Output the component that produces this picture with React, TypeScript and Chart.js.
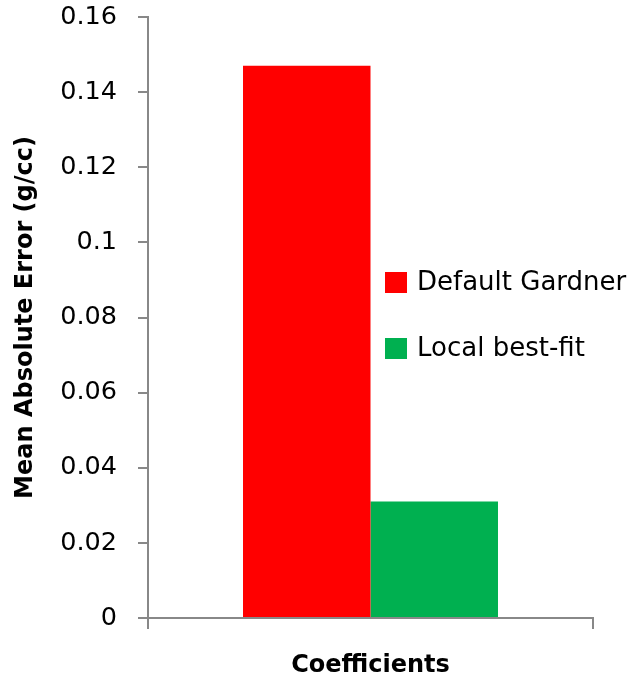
import React, { useEffect, useRef } from "react";
import { Chart, registerables } from "chart.js";

Chart.register(...registerables);

// Chart content
const categories: string[] = [""];
const defaultGardner: number[] = [0.147];
const localBestFit: number[] = [0.031];
const seriesLabels: string[] = ["Default Gardner", "Local best-fit"];
const seriesColors: string[] = ["#FF0000", "#00B050"];
const yTicks: number[] = [0, 0.02, 0.04, 0.06, 0.08, 0.1, 0.12, 0.14, 0.16];
const yTitle = "Mean Absolute Error (g/cc)";
const xTitle = "Coefficients";

const AXIS_GRAY = "#888888";
const FONT = '"DejaVu Sans", sans-serif';

// Legend drawn over the plot area, right of the bars
const overlayLegend = {
  id: "overlayLegend",
  afterDraw(chart: Chart) {
    const { ctx } = chart;
    const x0 = 385;
    const y0 = 282.5;
    const gap = 66;
    ctx.save();
    ctx.font = `26px ${FONT}`;
    ctx.textBaseline = "middle";
    ctx.textAlign = "left";
    chart.data.datasets.forEach((ds, i) => {
      const cy = y0 + i * gap;
      ctx.fillStyle = ds.backgroundColor as string;
      ctx.fillRect(x0, cy - 10.5, 22, 21);
      ctx.fillStyle = "#000000";
      ctx.fillText(String(ds.label), x0 + 32, cy + 1);
    });
    ctx.restore();
  },
};

export default function App() {
  const canvasRef = useRef<HTMLCanvasElement | null>(null);

  useEffect(() => {
    if (!canvasRef.current) return;
    const chart = new Chart(canvasRef.current, {
      type: "bar",
      data: {
        labels: categories,
        datasets: [
          {
            label: seriesLabels[0],
            data: defaultGardner,
            backgroundColor: seriesColors[0],
            borderWidth: 0,
          },
          {
            label: seriesLabels[1],
            data: localBestFit,
            backgroundColor: seriesColors[1],
            borderWidth: 0,
          },
        ],
      },
      options: {
        responsive: false,
        animation: false,
        datasets: {
          bar: {
            barPercentage: 1,
            categoryPercentage: 0.573,
          },
        },
        layout: {
          padding: { top: 17, right: 37, left: 0, bottom: 0 },
        },
        plugins: {
          legend: { display: false },
          tooltip: { enabled: false },
        },
        scales: {
          x: {
            grid: {
              offset: true,
              drawOnChartArea: false,
              drawTicks: true,
              tickLength: 11,
              color: AXIS_GRAY,
              lineWidth: 2,
            },
            border: { display: true, color: AXIS_GRAY, width: 2 },
            ticks: { display: false },
            title: {
              display: true,
              text: xTitle,
              color: "#000000",
              font: { family: FONT, size: 24, weight: "bold", lineHeight: 1 },
              padding: { top: 9, bottom: 0 },
            },
            afterFit(scale) {
              scale.height = 60;
              scale.paddingLeft = 0;
              scale.paddingRight = 0;
            },
          },
          y: {
            min: 0,
            max: 0.16,
            afterBuildTicks(scale) {
              scale.ticks = yTicks.map((v) => ({ value: v }));
            },
            grid: {
              drawOnChartArea: false,
              drawTicks: true,
              tickLength: 10,
              color: AXIS_GRAY,
              lineWidth: 2,
            },
            border: { display: true, color: AXIS_GRAY, width: 2 },
            ticks: {
              color: "#000000",
              padding: 21,
              font: { family: FONT, size: 25.5 },
              callback: (v) => String(Number(Number(v).toFixed(2))),
            },
            title: {
              display: true,
              text: yTitle,
              color: "#000000",
              font: { family: FONT, size: 24, weight: "bold", lineHeight: 1 },
              padding: { top: 14, bottom: 0 },
            },
            afterFit(scale) {
              scale.width = 148;
              scale.paddingTop = 0;
              scale.paddingBottom = 0;
            },
          },
        },
      },
      plugins: [overlayLegend],
    });
    return () => chart.destroy();
  }, []);

  return (
    <div style={{ position: "absolute", left: 0, top: 0, width: 630, height: 678, background: "#ffffff" }}>
      <canvas ref={canvasRef} width={630} height={678} style={{ display: "block" }} />
    </div>
  );
}
